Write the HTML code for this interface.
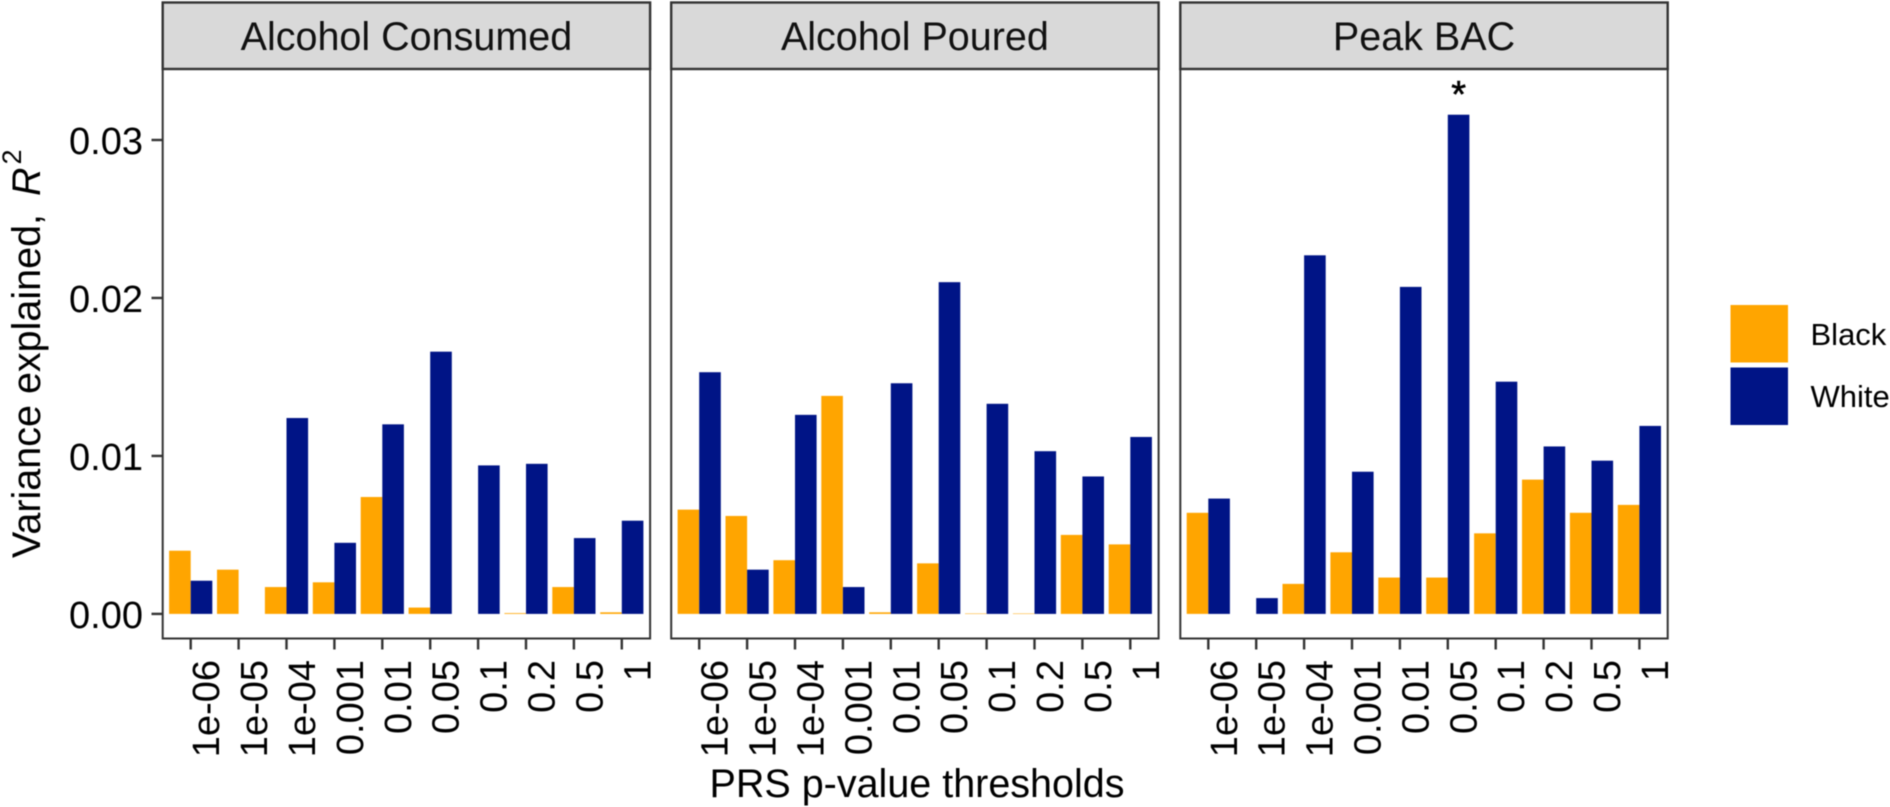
<!DOCTYPE html>
<html lang="en">
<head>
<meta charset="utf-8">
<title>Variance explained by PRS p-value thresholds</title>
<style>
  html, body { margin: 0; padding: 0; background: #fff; }
  svg { display: block; font-family: "Liberation Sans", Arial, sans-serif; filter: blur(0.4px); }
</style>
</head>
<body>
<svg id="chart" xmlns="http://www.w3.org/2000/svg" width="1890" height="807" viewBox="0 0 1890 807">
  <rect width="1890" height="807" fill="#ffffff"/>
  <text transform="translate(40,558) rotate(-90)" font-size="39.5" fill="#000">Variance explained,<tspan dx="18" font-style="italic">R</tspan><tspan dx="3" dy="-19" font-size="27">2</tspan></text>
  <text x="917" y="797" text-anchor="middle" font-size="39.5" fill="#000">PRS p-value thresholds</text>
  <g>
    <rect x="1730.5" y="305" width="57.5" height="57.5" fill="#FFA500"/>
    <text x="1810.5" y="345" font-size="31" fill="#000">Black</text>
    <rect x="1730.5" y="367.5" width="57.5" height="57.5" fill="#001486"/>
    <text x="1810.5" y="407" font-size="31" fill="#000">White</text>
  </g>
  <g id="panels"></g>
</svg>
<script>
const thresholds = ["1e-06", "1e-05", "1e-04", "0.001", "0.01", "0.05", "0.1", "0.2", "0.5", "1"];
const yTicks = [0, 0.01, 0.02, 0.03];
const yTickLabels = ["0.00", "0.01", "0.02", "0.03"];
const panelTitles = ["Alcohol Consumed", "Alcohol Poured", "Peak BAC"];
const consumedBlack = [0.0040, 0.0028, 0.0017, 0.0020, 0.0074, 0.0004, 0.0000, 0.00005, 0.0017, 0.0001];
const consumedWhite = [0.0021, 0.0000, 0.0124, 0.0045, 0.0120, 0.0166, 0.0094, 0.0095, 0.0048, 0.0059];
const pouredBlack = [0.0066, 0.0062, 0.0034, 0.0138, 0.0001, 0.0032, 0.00003, 0.00003, 0.0050, 0.0044];
const pouredWhite = [0.0153, 0.0028, 0.0126, 0.0017, 0.0146, 0.0210, 0.0133, 0.0103, 0.0087, 0.0112];
const peakBlack = [0.0064, 0.0000, 0.0019, 0.0039, 0.0023, 0.0023, 0.0051, 0.0085, 0.0064, 0.0069];
const peakWhite = [0.0073, 0.0010, 0.0227, 0.0090, 0.0207, 0.0316, 0.0147, 0.0106, 0.0097, 0.0119];
const blackSeries = [consumedBlack, pouredBlack, peakBlack];
const whiteSeries = [consumedWhite, pouredWhite, peakWhite];
const significantPanel = 2;
const significantThreshold = "0.05";

const NS = "http://www.w3.org/2000/svg";
const root = document.getElementById("panels");
const PANEL_W = 487.4, STRIP_TOP = 2.5, STRIP_BOTTOM = 69, PANEL_BOTTOM = 638.5;
const panelLefts = [162.7, 671.2, 1180.3];
const STEP = 47.9, FIRST = 28, BAR_W = 21.6;
const Y0 = 613.9, PX_PER_UNIT = 15797;

function yScale(v) { return Y0 - v * PX_PER_UNIT; }
function xScale(left, i) { return left + FIRST + i * STEP; }
function make(tag, attrs, parent) {
  const el = document.createElementNS(NS, tag);
  for (const k in attrs) el.setAttribute(k, attrs[k]);
  parent.appendChild(el);
  return el;
}

panelTitles.forEach((title, p) => {
  const left = panelLefts[p];
  const g = make("g", {}, root);
  
  

  const strip = make("rect", { x: left, y: STRIP_TOP, width: PANEL_W, height: STRIP_BOTTOM - STRIP_TOP, fill: "#D9D9D9", stroke: "#333333", "stroke-width": 2.4 }, g);
  
  

  const stripText = make("text", { x: left + PANEL_W / 2, y: 50, "text-anchor": "middle", "font-size": 39.5, fill: "#111" }, g);
  
  
  stripText.textContent = title;

  thresholds.forEach((label, i) => {
    const cx = xScale(left, i);
    const black = make("rect", { x: cx - BAR_W, y: yScale(blackSeries[p][i]), width: BAR_W, height: Y0 - yScale(blackSeries[p][i]), fill: "#FFA500" }, g);
    
    
    const white = make("rect", { x: cx, y: yScale(whiteSeries[p][i]), width: BAR_W, height: Y0 - yScale(whiteSeries[p][i]), fill: "#001486" }, g);
    
    

    const tick = make("line", { x1: cx, x2: cx, y1: PANEL_BOTTOM, y2: PANEL_BOTTOM + 11, stroke: "#333333", "stroke-width": 2.4 }, g);
    
    

    const tickLabel = make("text", { transform: "translate(" + (cx + 28.5) + ",660) rotate(-90)", "text-anchor": "end", "font-size": 38, fill: "#000" }, g);
    
    
    tickLabel.textContent = label;

    if (p === significantPanel && label === significantThreshold) {
      const star = make("text", { x: cx + BAR_W / 2, y: yScale(whiteSeries[p][i]) - 7.5, "text-anchor": "middle", "font-size": 38, fill: "#000", stroke: "#000", "stroke-width": 0.6 }, g);
      
      
      star.textContent = "*";
    }
  });

  const border = make("rect", { x: left, y: STRIP_BOTTOM, width: PANEL_W, height: PANEL_BOTTOM - STRIP_BOTTOM, fill: "none", stroke: "#333333", "stroke-width": 2 }, g);
  
  
});

yTicks.forEach((v, i) => {
  const tick = make("line", { x1: 151.5, x2: panelLefts[0], y1: yScale(v), y2: yScale(v), stroke: "#333333", "stroke-width": 2.4 }, root);
  
  
  const label = make("text", { x: 143, y: yScale(v) + 14, "text-anchor": "end", "font-size": 38, fill: "#000" }, root);
  
  
  label.textContent = yTickLabels[i];
});
</script>
</body>
</html>
